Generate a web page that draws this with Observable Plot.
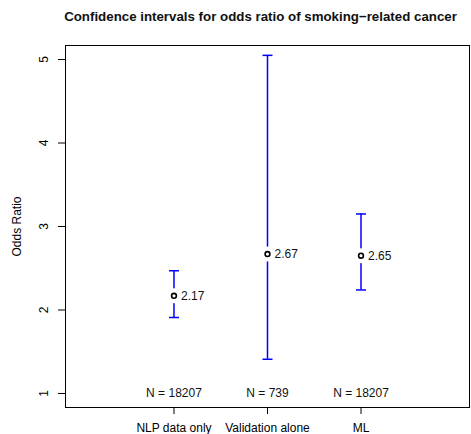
<!DOCTYPE html>
<html>
<head>
<meta charset="utf-8">
<script src="https://cdn.jsdelivr.net/npm/d3@7"></script>
<script src="https://cdn.jsdelivr.net/npm/@observablehq/plot@0.6"></script>
<style>
  html, body { margin: 0; padding: 0; background: #fff; }
  svg { font-family: "Liberation Sans", Arial, Helvetica, sans-serif; }
</style>
</head>
<body>
<div id="chart"></div>
<script>
const title = "Confidence intervals for odds ratio of smoking\u2212related cancer";
const categories = ["NLP data only", "Validation alone", "ML"];
const positions = [1, 2, 3];
const estimates = [2.17, 2.67, 2.65];
const lower = [1.91, 1.41, 2.24];
const upper = [2.47, 5.05, 3.15];
const nLabels = ["N = 18207", "N = 739", "N = 18207"];
const nLabelY = 1;
const yTicks = [1, 2, 3, 4, 5];

const rows = categories.map((c, i) => ({
  cat: c, x: positions[i], est: estimates[i], lo: lower[i], hi: upper[i], n: nLabels[i]
}));

const blue = "#0000FF";
const capSymbol = {
  draw(ctx, size) {
    const w = Math.sqrt(size / Math.PI);
    ctx.moveTo(-w, 0);
    ctx.lineTo(w, 0);
  }
};

const chart = Plot.plot({
  width: 471,
  height: 434,
  marginLeft: 65,
  marginRight: 2,
  marginTop: 45,
  marginBottom: 27,
  style: { fontFamily: "'Liberation Sans', Arial, Helvetica, sans-serif", fontSize: "12px", background: "#fff" },
  x: { domain: [-0.16, 4.16] },
  y: { domain: [0.832, 5.168] },
  marks: [
    Plot.ruleX(rows, { x: "x", y1: "lo", y2: "hi", stroke: blue, strokeWidth: 1.5 }),
    Plot.dot(rows, { x: "x", y: "lo", symbol: capSymbol, r: 5, fill: "none", stroke: blue, strokeWidth: 1.5 }),
    Plot.dot(rows, { x: "x", y: "hi", symbol: capSymbol, r: 5, fill: "none", stroke: blue, strokeWidth: 1.5 }),
    Plot.dot(rows, { x: "x", y: "est", r: 7.5, fill: "white", stroke: "none" }),
    Plot.dot(rows, { x: "x", y: "est", r: 2.4, fill: "white", stroke: "black", strokeWidth: 1.6 }),
    Plot.text(rows, { x: "x", y: "est", text: d => d.est.toFixed(2), textAnchor: "start", dx: 7, fontSize: 12, fill: "#111" }),
    Plot.text(rows, { x: "x", y: () => nLabelY, text: "n", fontSize: 12, fill: "#111" }),
    Plot.frame({ stroke: "black", strokeWidth: 1 }),
    Plot.axisY({ ticks: yTicks, tickFormat: d => String(d), tickSize: 7, tickRotate: -90, tickPadding: 11, fontSize: 12,
      label: "Odds Ratio", labelAnchor: "center", labelOffset: 53, labelArrow: "none" }),
    Plot.axisX({ ticks: positions, tickFormat: v => categories[v - 1], tickSize: 7, tickPadding: 9, fontSize: 12, label: null }),
    Plot.text([title], { frameAnchor: "top", lineAnchor: "middle", dy: -28.5, dx: -7, fontWeight: "bold", fontSize: 13.3, fill: "#111" })
  ]
});
document.getElementById("chart").appendChild(chart);
</script>
</body>
</html>
